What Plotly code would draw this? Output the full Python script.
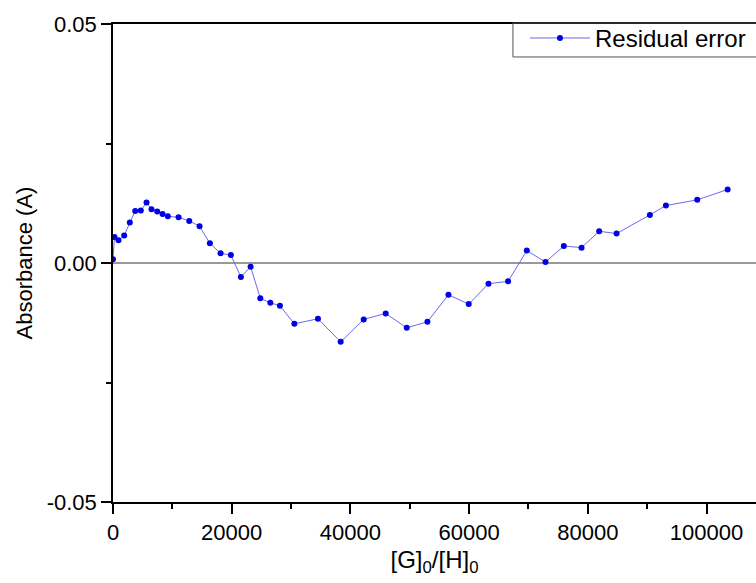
import plotly.graph_objects as go

ratio = [0, 253, 927, 1888, 2833, 3743, 4687, 5648, 6491, 7452, 8346, 9239,
         11043, 12847, 14584, 16320, 18125, 19861, 21547, 23182, 24817, 26503,
         28122, 30550, 34530, 38357, 42235, 45944, 49484, 52974, 56514, 59936,
         63258, 66563, 69715, 72868, 75954, 78939, 81906, 84840, 90454, 93152,
         98429, 103552]
residual = [0.0008, 0.00545, 0.00476, 0.00573, 0.00845, 0.0109, 0.01097, 0.01265,
            0.01125, 0.01076, 0.01027, 0.00978, 0.00957, 0.0088, 0.00769, 0.00412,
            0.00202, 0.00168, -0.00294, -0.00077, -0.0074, -0.00832, -0.00895,
            -0.01272, -0.01167, -0.0165, -0.0118, -0.01055, -0.01356, -0.0123,
            -0.00665, -0.0086, -0.00433, -0.00384, 0.00259, 0.00021, 0.00356,
            0.00321, 0.00664, 0.00615, 0.01006, 0.01202, 0.01321, 0.01537]

x_ticks = [0, 20000, 40000, 60000, 80000, 100000]
y_ticks = [-0.05, 0.0, 0.05]
y_tick_text = ["-0.05", "0.00", "0.05"]

FONT = "Liberation Sans, Arial, sans-serif"

fig = go.Figure()
fig.add_trace(go.Scatter(
    x=ratio, y=residual, mode="lines+markers", name="Residual error",
    line=dict(color="#6a6aee", width=1),
    marker=dict(color="#0000e6", size=6),
))

# legend frame (extends past the right edge of the page, as in the reference)
fig.add_shape(type="rect", xref="paper", yref="paper",
              x0=0.622, x1=1.05, y0=0.931, y1=1.002,
              line=dict(color="#555555", width=1), fillcolor="rgba(0,0,0,0)",
              layer="above")

fig.update_layout(
    width=756, height=583,
    margin=dict(l=113, r=0, t=24, b=81, autoexpand=False),
    paper_bgcolor="white", plot_bgcolor="white",
    font=dict(family=FONT, size=22, color="black"),
    showlegend=True,
    legend=dict(x=0.6407, y=1.017, xanchor="left", yanchor="top",
                borderwidth=0, bgcolor="rgba(0,0,0,0)",
                font=dict(size=24), itemwidth=60),
    xaxis=dict(
        range=[0, 108330], tickvals=x_ticks, ticktext=[str(v) for v in x_ticks],
        showgrid=False, zeroline=False, showline=True, linecolor="black",
        linewidth=1.5, mirror=True, ticks="outside", ticklen=10, tickwidth=1.5,
        tickcolor="black",
        minor=dict(dtick=10000, tick0=0, ticks="outside", ticklen=5,
                   tickwidth=1.5, tickcolor="black", showgrid=False),
        title=dict(text="[G]<sub>0</sub>/[H]<sub>0</sub>", font=dict(size=24),
                   standoff=7),
    ),
    yaxis=dict(
        range=[-0.05, 0.05], tickvals=y_ticks, ticktext=y_tick_text,
        showgrid=False, zeroline=True, zerolinecolor="#999999", zerolinewidth=1.5,
        showline=True, linecolor="black", linewidth=1.5, mirror=False,
        ticks="outside", ticklen=10, tickwidth=1.5, tickcolor="black",
        ticklabelstandoff=0,
        minor=dict(dtick=0.025, tick0=0, ticks="outside", ticklen=5,
                   tickwidth=1.5, tickcolor="black", showgrid=False),
        title=dict(text="Absorbance (A)", font=dict(size=22), standoff=8),
    ),
)

fig.write_html("out.html")
